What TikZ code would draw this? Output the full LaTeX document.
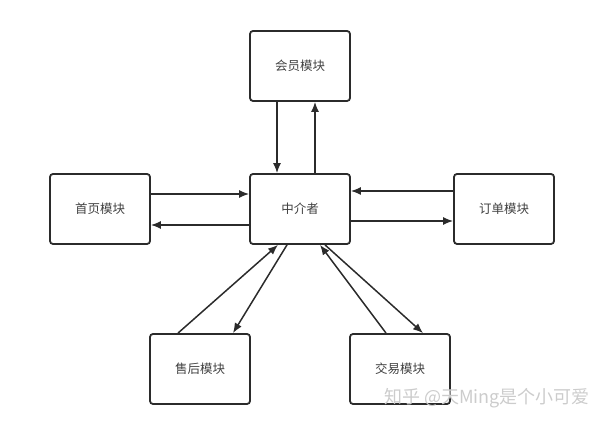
\documentclass[tikz,border=0pt]{standalone}
\usepackage{fontspec}
\newfontfamily\cjk{Noto Sans CJK SC}
\usepackage{xcolor}
\usetikzlibrary{arrows.meta}
\definecolor{ink}{HTML}{2B2B2B}

\begin{document}
\begin{tikzpicture}[x=1pt,y=1pt]
			\tikzstyle{module}=[draw=ink, line width=1.8pt, rounded corners=3pt, minimum width=100pt, minimum height=70pt, text=ink!90, font=\cjk\fontsize{12.5}{15}\selectfont]
			\tikzset{edge/.style = {draw=ink, line width=1.5pt, -{Latex[length=10pt,width=8pt]}}}
			\useasboundingbox (0,0) rectangle (609,427);
			
			\node[module](member) at (300,361) {会员模块};
			\node[module](mediator) at (300,218) {中介者};
			\node[module](home) at (100,218) {首页模块};
			\node[module](order) at (504,218) {订单模块};
			\node[module](aftersale) at (200,58) {售后模块};
			\node[module](trade) at (400,58) {交易模块};
			
			\draw[edge]([xshift=-23pt]member.south) to ([xshift=-23pt]mediator.north);
			\draw[edge]([xshift=15pt]mediator.north) to ([xshift=15pt]member.south);
			\draw[edge]([yshift=15pt]home.east) to ([yshift=15pt]mediator.west);
			\draw[edge]([yshift=-16pt]mediator.west) to ([yshift=-16pt]home.east);
			\draw[edge]([yshift=18pt]order.west) to ([yshift=18pt]mediator.east);
			\draw[edge]([yshift=-12pt]mediator.east) to ([yshift=-12pt]order.west);
			\draw[edge]([xshift=-22pt]aftersale.north) to ([xshift=-22pt]mediator.south);
			\draw[edge]([xshift=-13pt]mediator.south) to ([xshift=33pt]aftersale.north);
			\draw[edge]([xshift=-14pt]trade.north) to ([xshift=20pt]mediator.south);
			\draw[edge]([xshift=25pt]mediator.south) to ([xshift=23pt]trade.north);
			
			\node[text=gray!40, font=\cjk\fontsize{18}{21}\selectfont](mark) at (487,29) {知乎 @天Ming是个小可爱};
			
\end{tikzpicture}
\end{document}
